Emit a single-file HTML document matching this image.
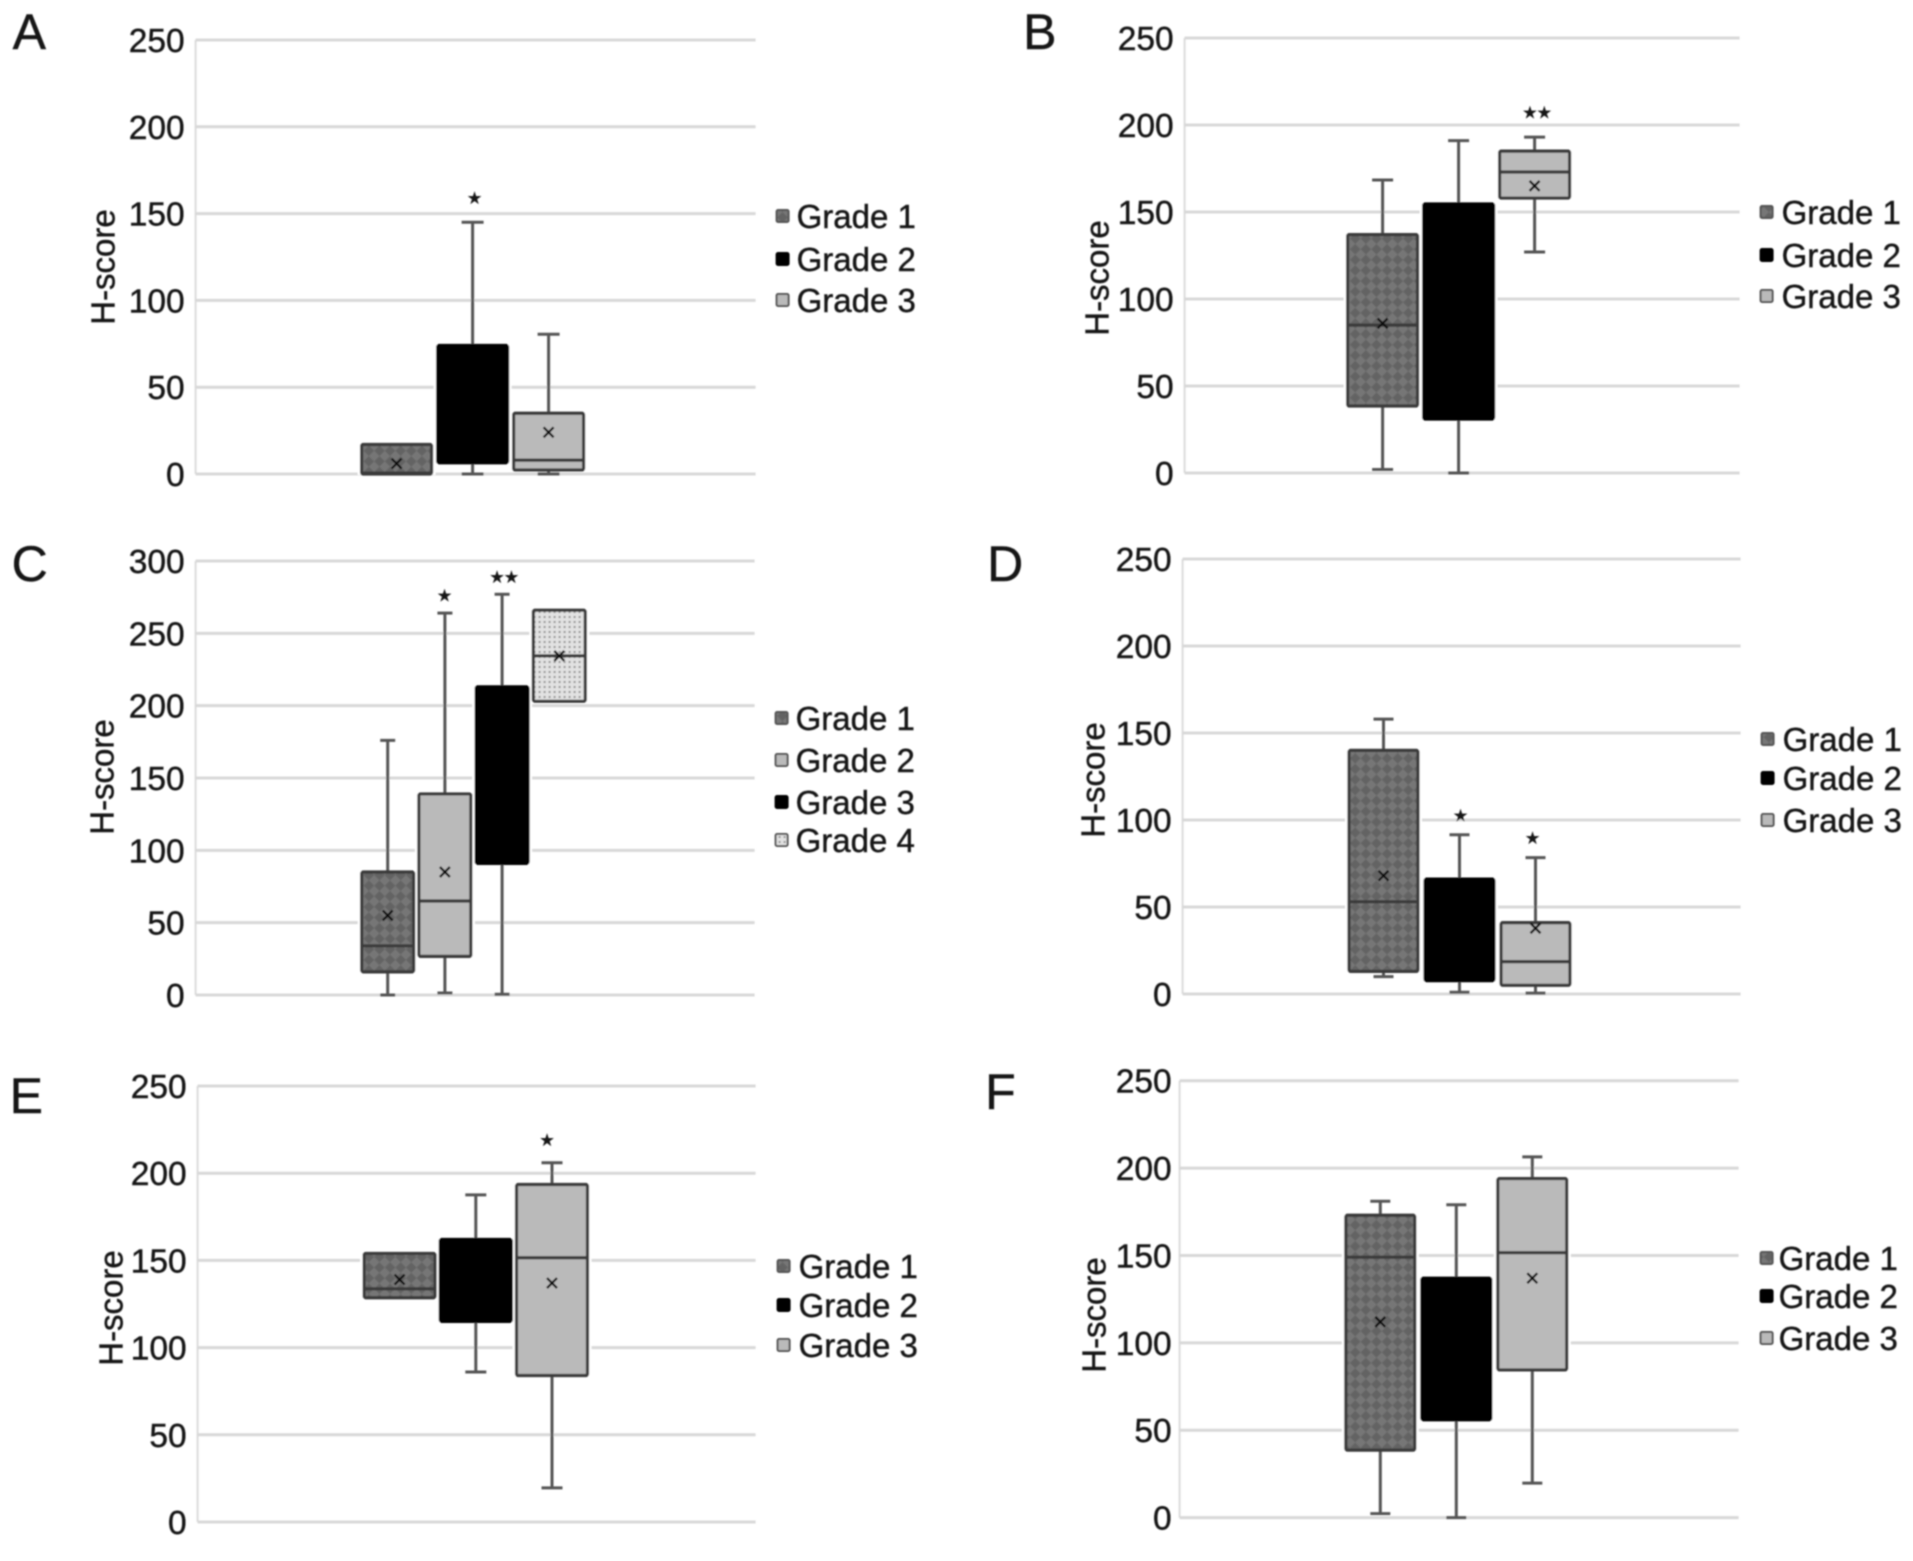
<!DOCTYPE html>
<html lang="en">
<head>
<meta charset="utf-8">
<title>H-score by tumour grade</title>
<style>
html,body{margin:0;padding:0;background:#fff;width:1913px;height:1561px;overflow:hidden}
svg{display:block}
text{font-family:"Liberation Sans",Arial,sans-serif;fill:#141414;stroke:#141414;stroke-width:0.45px}
</style>
</head>
<body>
<svg id="figure" xmlns="http://www.w3.org/2000/svg" width="1913" height="1561" viewBox="0 0 1913 1561">
<defs>
<filter id="soft" x="-2%" y="-2%" width="104%" height="104%"><feGaussianBlur stdDeviation="0.85"/></filter>
<pattern id="checker" width="15" height="15" patternUnits="userSpaceOnUse" patternTransform="rotate(45)">
<rect width="15" height="15" fill="#767676"/>
<rect width="7.5" height="7.5" fill="#646464"/>
<rect x="7.5" y="7.5" width="7.5" height="7.5" fill="#646464"/>
</pattern>
<pattern id="dots" width="5" height="5" patternUnits="userSpaceOnUse">
<rect width="5" height="5" fill="#e2e2e2"/>
<circle cx="2" cy="2" r="1.1" fill="#8c8c8c"/>
</pattern>
</defs>
<g id="plot-root" filter="url(#soft)" transform="translate(-2.4 0)"></g>
</svg>
<script>
const ticks250 = [0, 50, 100, 150, 200, 250];
const ticks300 = [0, 50, 100, 150, 200, 250, 300];
const grades3 = ['Grade 1', 'Grade 2', 'Grade 3'];
const grades4 = ['Grade 1', 'Grade 2', 'Grade 3', 'Grade 4'];

const aMin = [null, 0, 0];
const aQ1 = [0, 6.5, 2.3];
const aMedian = [0.5, null, 8];
const aQ3 = [17, 74, 35];
const aMax = [null, 145, 80.5];
const aMean = [6, null, 24];
const aStars = ['', '★', ''];

const bMin = [2, 0, 127];
const bQ1 = [38.5, 31, 158];
const bMedian = [85, null, 173];
const bQ3 = [137, 154.6, 185];
const bMax = [168.4, 191, 193];
const bMean = [86, null, 165];
const bStars = ['', '', '★★'];

const cMin = [0, 1.4, 0.5, null];
const cQ1 = [16, 26.7, 91, 203];
const cMedian = [34, 65, null, 234.4];
const cQ3 = [85, 139, 213, 266];
const cMax = [176, 264, 277, null];
const cMean = [55, 85, null, 234.4];
const cStars = ['', '★', '★★', ''];

const dMin = [10, 1, 0.5];
const dQ1 = [13, 7.7, 5];
const dMedian = [53, null, 18.6];
const dQ3 = [140, 66, 41];
const dMax = [158, 91.5, 78.4];
const dMean = [68, null, 37.8];
const dStars = ['', '★', '★'];

const eMin = [null, 86, 19.6];
const eQ1 = [128.6, 115, 84];
const eMedian = [133.7, null, 151.5];
const eQ3 = [154, 162, 193.5];
const eMax = [null, 187.6, 206];
const eMean = [139, null, 137];
const eStars = ['', '', '★'];

const fMin = [2.3, 0, 19.7];
const fQ1 = [38.6, 56, 84.5];
const fMedian = [149, null, 151.6];
const fQ3 = [173, 137, 194];
const fMax = [181, 179, 206.4];
const fMean = [112, null, 137];
const fStars = ['', '', ''];

const panels = [
  {id:'a', letter:'A', lx:15, ly:49, left:198, right:758, bottom:474, top:40, ticks:ticks250, tickRight:187, yLabelX:117, yLabelY:267,
   first:399, gap:76, boxW:70, capW:22, starGap:25, starNudge:[0,1,0], grades:grades3, fills:['url(#checker)','#000','#bababa'],
   min:aMin, q1:aQ1, median:aMedian, q3:aQ3, max:aMax, mean:aMean, stars:aStars,
   swatchX:785, legendX:799, legendY:[228,271,312]},
  {id:'b', letter:'B', lx:1025.5, ly:49, left:1187, right:1742, bottom:473, top:38, ticks:ticks250, tickRight:1176, yLabelX:1111, yLabelY:278,
   first:1385, gap:76, boxW:70, capW:21, starGap:25, starNudge:[0,0,1.5], grades:grades3, fills:['url(#checker)','#000','#bababa'],
   min:bMin, q1:bQ1, median:bMedian, q3:bQ3, max:bMax, mean:bMean, stars:bStars,
   swatchX:1769, legendX:1784, legendY:[224,267,308]},
  {id:'c', letter:'C', lx:14, ly:581, left:198, right:757, bottom:995, top:561, ticks:ticks300, tickRight:187, yLabelX:116, yLabelY:777,
   first:390.1, gap:57.2, boxW:52, capW:15, starGap:18, starNudge:[0,-1.4,1.1,0], grades:grades4, fills:['url(#checker)','#bababa','#000','url(#dots)'],
   min:cMin, q1:cQ1, median:cMedian, q3:cQ3, max:cMax, mean:cMean, stars:cStars,
   swatchX:784, legendX:798, legendY:[730,772,814,852]},
  {id:'d', letter:'D', lx:989.5, ly:581, left:1185, right:1743, bottom:994, top:559, ticks:ticks250, tickRight:1174, yLabelX:1107, yLabelY:780,
   first:1385.9, gap:76, boxW:69, capW:20, starGap:20, starNudge:[0,0,-4], grades:grades3, fills:['url(#checker)','#000','#bababa'],
   min:dMin, q1:dQ1, median:dMedian, q3:dQ3, max:dMax, mean:dMean, stars:dStars,
   swatchX:1770, legendX:1785, legendY:[751,790,832]},
  {id:'e', letter:'E', lx:12, ly:1113, left:200, right:758, bottom:1522, top:1086, ticks:ticks250, tickRight:189, yLabelX:125, yLabelY:1308,
   first:402, gap:76.2, boxW:71, capW:21, starGap:23, starNudge:[0,0,-5.9], grades:grades3, fills:['url(#checker)','#000','#bababa'],
   min:eMin, q1:eQ1, median:eMedian, q3:eQ3, max:eMax, mean:eMean, stars:eStars,
   swatchX:786, legendX:801, legendY:[1278,1317,1357]},
  {id:'f', letter:'F', lx:987.5, ly:1109, left:1182, right:1741, bottom:1517.6, top:1080.7, ticks:ticks250, tickRight:1174, yLabelX:1108, yLabelY:1315,
   first:1382.7, gap:76, boxW:69, capW:20, starGap:23, starNudge:[0,0,0], grades:grades3, fills:['url(#checker)','#000','#bababa'],
   min:fMin, q1:fQ1, median:fMedian, q3:fQ3, max:fMax, mean:fMean, stars:fStars,
   swatchX:1769, legendX:1781, legendY:[1270,1308,1350]}
];

const NS = 'http://www.w3.org/2000/svg';
const root = document.getElementById('plot-root');

function make(tag, parent, attrs, content) {
  const el = document.createElementNS(NS, tag);
  for (const k in attrs) el.setAttribute(k, attrs[k]);
  if (content !== undefined) el.textContent = content;
  parent.appendChild(el);
  return el;
}
function has(v) { return v !== null && v !== undefined; }

function drawAxes(p, g, yScale) {
  const axis = make('line', g, {x1:p.left, x2:p.left, y1:p.top, y2:p.bottom, stroke:'#dcdcdc', 'stroke-width':2});
  
  
  p.ticks.forEach(function (t) {
    const y = yScale(t);
    const grid = make('line', g, {x1:p.left, x2:p.right, y1:y, y2:y, stroke:'#d8d8d8', 'stroke-width':3});
    
    
    const label = make('text', g, {x:p.tickRight, y:y + 12, 'text-anchor':'end', 'font-size':33.5}, String(t));
    
    
  });
  const title = make('text', g, {x:0, y:0, transform:'translate(' + p.yLabelX + ' ' + p.yLabelY + ') rotate(-90)', 'text-anchor':'middle', 'font-size':33}, 'H-score');
  
  
  const letter = make('text', g, {x:p.lx, y:p.ly, 'font-size':50}, p.letter);
  
  
}

function drawHalo(p, g, i, xScale, yScale) {
  const yQ1 = yScale(p.q1[i]);
  const yQ3 = yScale(p.q3[i]);
  const halo = make('rect', g, {x:xScale(i) - p.boxW / 2 - 4, y:yQ3 - 1, width:p.boxW + 8, height:yQ1 - yQ3 + 2, fill:'#fff'});
  
  
}

function drawBox(p, g, i, xScale, yScale) {
  const cx = xScale(i);
  const halfW = p.boxW / 2;
  const name = p.grades[i].toLowerCase().replace(' ', '-');
  const box = make('g', g, {});
  
  

  const yQ1 = yScale(p.q1[i]);
  const yQ3 = yScale(p.q3[i]);

  if (has(p.max[i])) {
    const upper = make('line', box, {x1:cx, x2:cx, y1:yQ3, y2:yScale(p.max[i]), stroke:'#555', 'stroke-width':3});
    
    
    const upperCap = make('line', box, {x1:cx - p.capW / 2, x2:cx + p.capW / 2, y1:yScale(p.max[i]), y2:yScale(p.max[i]), stroke:'#555', 'stroke-width':3});
    
    
  }
  if (has(p.min[i])) {
    const lower = make('line', box, {x1:cx, x2:cx, y1:yQ1, y2:yScale(p.min[i]), stroke:'#555', 'stroke-width':3});
    
    
    const lowerCap = make('line', box, {x1:cx - p.capW / 2, x2:cx + p.capW / 2, y1:yScale(p.min[i]), y2:yScale(p.min[i]), stroke:'#555', 'stroke-width':3});
    
    
  }

  const solid = p.fills[i] === '#000';
  const rect = make('rect', box, {x:cx - halfW, y:yQ3, width:p.boxW, height:yQ1 - yQ3, rx:1.5, fill:p.fills[i], stroke:solid ? '#000' : '#3a3a3a', 'stroke-width':3.2});
  
  

  if (has(p.median[i])) {
    const med = make('line', box, {x1:cx - halfW, x2:cx + halfW, y1:yScale(p.median[i]), y2:yScale(p.median[i]), stroke:'#3a3a3a', 'stroke-width':3.2});
    
    
  }
  if (has(p.mean[i])) {
    const my = yScale(p.mean[i]);
    const mean = make('path', box, {d:'M' + (cx - 5) + ' ' + (my - 5) + 'L' + (cx + 5) + ' ' + (my + 5) + 'M' + (cx - 5) + ' ' + (my + 5) + 'L' + (cx + 5) + ' ' + (my - 5), stroke:'#111', 'stroke-width':2.4, fill:'none'});
    
    
  }
  if (p.stars[i]) {
    const anchorValue = has(p.max[i]) ? p.max[i] : p.q3[i];
    const star = make('text', box, {x:cx + 1 + p.starNudge[i], y:yScale(anchorValue) - p.starGap + 6, 'text-anchor':'middle', 'font-size':16, style:'font-family:"DejaVu Sans",sans-serif'}, p.stars[i]);
    
    
  }
}

function drawLegend(p, g) {
  const legend = make('g', g, {});
  
  
  p.grades.forEach(function (grade, i) {
    const baseline = p.legendY[i];
    const entry = make('g', legend, {});
    
    
    const solid = p.fills[i] === '#000';
    const sw = make('rect', entry, {x:p.swatchX - 6, y:baseline - 18, width:12, height:12, rx:1.5, fill:p.fills[i], stroke:solid ? '#000' : '#555', 'stroke-width':2});
    
    
    const label = make('text', entry, {x:p.legendX, y:baseline, 'font-size':33}, grade);
    
    
  });
}

panels.forEach(function (p) {
  const domainMax = p.ticks[p.ticks.length - 1];
  const yScale = function (v) { return p.bottom - (v / domainMax) * (p.bottom - p.top); };
  const xScale = function (i) { return p.first + i * p.gap; };
  const g = make('g', root, {});
  
  
  drawAxes(p, g, yScale);
  p.grades.forEach(function (grade, i) { drawHalo(p, g, i, xScale, yScale); });
  p.grades.forEach(function (grade, i) { drawBox(p, g, i, xScale, yScale); });
  drawLegend(p, g);
});
</script>
</body>
</html>
